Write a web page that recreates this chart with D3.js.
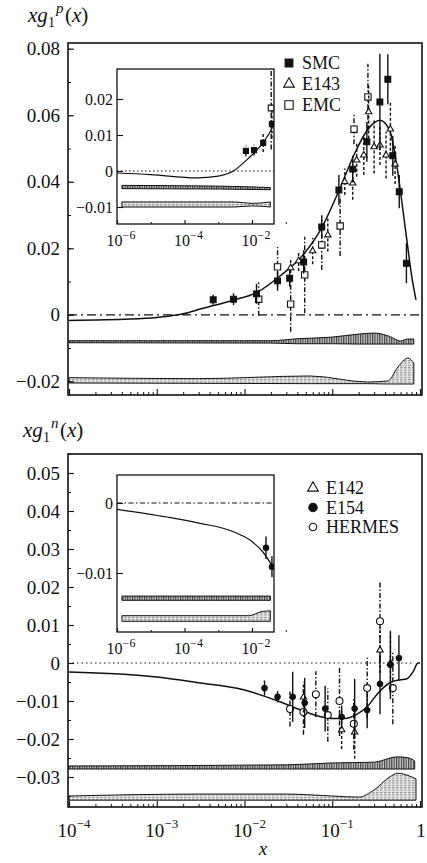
<!DOCTYPE html>
<html>
<head>
<meta charset="utf-8">
<script src="https://cdn.jsdelivr.net/npm/d3@7"></script>
<style>
  body { margin: 0; background: #fff; }
  svg { display: block; }
  text { font-family: "Liberation Serif", "Times New Roman", serif; fill: #111; }
</style>
</head>
<body>
<div id="vis"></div>
<script>
// ---- data ----
// x ticks (main and inset)
const mainXTicks = [1e-4, 1e-3, 1e-2, 1e-1, 1];
const insetXTicks = [1e-6, 1e-4, 1e-2];
const pYTicks = [-0.02, 0, 0.02, 0.04, 0.06, 0.08];
const nYTicks = [-0.03, -0.02, -0.01, 0, 0.01, 0.02, 0.03, 0.04, 0.05];
const pInsetYTicks = [-0.01, 0, 0.01, 0.02];
const nInsetYTicks = [-0.01, 0];

// proton fit curve [x, xg1p]
const pCurve = [[1e-4,-0.0017],[5e-4,-0.0013],[1e-3,-0.0008],[2e-3,0.0003],[3.2e-3,0.0018],[7.5e-3,0.0044],
  [0.014,0.0068],[0.026,0.0119],[0.044,0.0173],[0.076,0.0262],[0.12,0.0375],[0.18,0.0485],[0.25,0.0555],
  [0.35,0.0585],[0.45,0.0555],[0.55,0.044],[0.65,0.030],[0.72,0.021],[0.8,0.012],[0.9,0.0045]];
// proton data [x, value, error]
const smc = [[0.0044,0.0045,0.0015],[0.0075,0.0047,0.0018],[0.0137,0.0063,0.003],[0.0238,0.0102,0.003],
  [0.0327,0.011,0.0025],[0.0472,0.0159,0.0035],[0.0759,0.0264,0.0035],[0.119,0.0375,0.0045],[0.171,0.0438,0.004],
  [0.248,0.052,0.006],[0.349,0.064,0.0145],[0.43,0.0708,0.0075],[0.49,0.0478,0.006],[0.58,0.037,0.005],[0.70,0.0155,0.006]];
const e143 = [[0.0336,0.0141,0.003],[0.0414,0.0162,0.003],[0.0598,0.0192,0.004],[0.089,0.024,0.005],
  [0.139,0.040,0.004],[0.171,0.0396,0.005],[0.19,0.0465,0.005],[0.229,0.048,0.006],[0.26,0.061,0.008],
  [0.30,0.0505,0.008],[0.35,0.051,0.006],[0.41,0.048,0.007],[0.46,0.0558,0.008],[0.52,0.0453,0.006]];
const emc = [[0.0145,0.0047,0.005],[0.0238,0.0144,0.006],[0.0336,0.0032,0.0083],[0.0485,0.012,0.0115],
  [0.0759,0.021,0.0075],[0.123,0.0267,0.009],[0.177,0.0558,0.0045],[0.255,0.0655,0.010]];
// proton error bands [x, low, high]
const pBandA = [[1e-4,-0.0084,-0.0078],[0.02,-0.0085,-0.0078],[0.04,-0.0087,-0.0072],[0.1,-0.0087,-0.0067],
  [0.2,-0.0088,-0.0058],[0.3,-0.0088,-0.0055],[0.45,-0.0088,-0.0065],[0.6,-0.0088,-0.0079],[0.72,-0.0088,-0.0073],[0.85,-0.0088,-0.0073]];
const pBandB = [[1e-4,-0.0205,-0.0189],[0.003,-0.0206,-0.0192],[0.056,-0.0207,-0.0184],[0.25,-0.0207,-0.0202],
  [0.43,-0.0208,-0.0199],[0.56,-0.0208,-0.0157],[0.73,-0.0208,-0.013],[0.85,-0.0208,-0.0145]];
// proton inset
const pInCurve = [[1e-6,-0.00056],[1e-5,-0.0010],[2.3e-4,-0.0019],[1e-3,-0.0014],[2.8e-3,0],[7e-3,0.0031],
  [0.021,0.0078],[0.039,0.0119],[0.045,0.0133]];
const pInSmc = [[0.0066,0.0056,0.0015],[0.0115,0.0058,0.0015],[0.0214,0.0078,0.0025],[0.039,0.013,0.004]];
const pInEmc = [[0.037,0.0175,0.0115]];
const pInBandA = [[1.4e-6,-0.0049,-0.0040],[1e-3,-0.0050,-0.0042],[0.035,-0.0052,-0.0046]];
const pInBandB = [[1.4e-6,-0.0100,-0.0086],[3e-3,-0.0100,-0.0086],[0.01,-0.0097,-0.0090],[0.035,-0.0100,-0.0086]];

// neutron fit curve
const nCurve = [[1e-4,-0.0024],[1e-3,-0.0037],[3e-3,-0.0052],[1e-2,-0.0071],[0.024,-0.0100],[0.044,-0.0124],
  [0.07,-0.0140],[0.104,-0.0146],[0.14,-0.0146],[0.19,-0.0135],[0.255,-0.0113],[0.33,-0.0080],[0.47,-0.0050],
  [0.6,-0.0044],[0.7,-0.0042],[0.83,-0.0024],[0.95,0.0],[1,0.0]];
const e154 = [[0.0169,-0.0066,0.002],[0.0238,-0.0089,0.0015],[0.0354,-0.0089,0.0066],[0.0485,-0.0105,0.0066],
  [0.083,-0.012,0.006],[0.128,-0.0142,0.003],[0.18,-0.012,0.0078],[0.25,-0.0124,0.0048],[0.35,-0.0055,0.008],
  [0.46,-0.0005,0.009],[0.575,0.0013,0.006]];
const hermes = [[0.033,-0.0121,0.0046],[0.047,-0.0129,0.006],[0.065,-0.0082,0.006],[0.089,-0.0137,0.007],
  [0.121,-0.0100,0.0092],[0.176,-0.0160,0.0068],[0.25,-0.0066,0.008],[0.35,0.011,0.0105],[0.49,-0.0066,0.0095]];
const e142 = [[0.047,-0.009,0.004],[0.128,-0.0176,0.005],[0.18,-0.0182,0.007],[0.35,0.0034,0.006],[0.46,0.0,0.008]];
const nBandA = [[1e-4,-0.0279,-0.0271],[0.03,-0.0279,-0.0268],[0.1,-0.0279,-0.0263],[0.3,-0.0279,-0.0261],
  [0.55,-0.0279,-0.0247],[0.75,-0.0279,-0.025],[0.87,-0.0279,-0.0258]];
const nBandB = [[1e-4,-0.0361,-0.035],[0.003,-0.0361,-0.0345],[0.03,-0.0361,-0.0345],[0.1,-0.0361,-0.035],
  [0.2,-0.0361,-0.0353],[0.3,-0.0361,-0.0334],[0.45,-0.0361,-0.030],[0.56,-0.0361,-0.029],[0.75,-0.0361,-0.0297],[0.9,-0.0361,-0.0305]];
// neutron inset
const nInCurve = [[1e-6,-0.0009],[3e-5,-0.0020],[2.9e-4,-0.0029],[2.8e-3,-0.0041],[8.7e-3,-0.0053],[0.021,-0.0070],[0.045,-0.0094]];
const nInE154 = [[0.026,-0.0064,0.0016],[0.039,-0.0091,0.0015]];
const nInBandA = [[1.4e-6,-0.0139,-0.0133],[0.035,-0.0139,-0.0133]];
const nInBandB = [[1.4e-6,-0.0169,-0.0161],[0.008,-0.0169,-0.0161],[0.02,-0.0169,-0.0155],[0.035,-0.0169,-0.0154]];

// ---- layout ----
const width = 427, height = 863;
const L = 68, R = 422;
const top1 = 43, bot1 = 395, top2 = 454, bot2 = 807;
const inL = 117, inR = 274;

const xMain = d3.scaleLog().domain([1e-4, 1]).range([69, 420]);
const yP = d3.scaleLinear().domain([0, 0.08]).range([314.8, 48.7]);
const yN = d3.scaleLinear().domain([-0.03, 0.05]).range([777, 473]);
const xIn = d3.scaleLog().domain([1e-6, 1e-2]).range([117, 252]);
const yPIn = d3.scaleLinear().domain([0, 0.02]).range([171, 99]);
const yNIn = d3.scaleLinear().domain([0, -0.01]).range([503, 573]);

let vis = d3.select('#vis').append('svg')
  .attr('width', width).attr('height', height);

// hatch patterns for error bands
const defs = vis.append('defs');
const hA = defs.append('pattern').attr('id', 'hatchA').attr('patternUnits', 'userSpaceOnUse')
  .attr('width', 2.4).attr('height', 4);
hA.append('rect').attr('width', 2.4).attr('height', 4).attr('fill', '#c4c4c4');
hA.append('line').attr('x1', 0.6).attr('x2', 0.6).attr('y1', 0).attr('y2', 4)
  .attr('stroke', '#222').attr('stroke-width', 0.9);
const hB = defs.append('pattern').attr('id', 'hatchB').attr('patternUnits', 'userSpaceOnUse')
  .attr('width', 4).attr('height', 2.4);
hB.append('rect').attr('width', 4).attr('height', 2.4).attr('fill', '#e6e6e6');
hB.append('line').attr('x1', 0).attr('x2', 2.6).attr('y1', 0.6).attr('y2', 0.6)
  .attr('stroke', '#555').attr('stroke-width', 0.7);

function clip(id, x0, y0, x1, y1) {
  defs.append('clipPath').attr('id', id).append('rect')
    .attr('x', x0).attr('y', y0).attr('width', x1 - x0).attr('height', y1 - y0);
}
clip('cTop', L, top1, R, bot1);
clip('cBot', L, top2, R, bot2);
clip('cInP', inL, 69, inR, 224);
clip('cInN', inL, 475, inR, 632);

function drawBand(g, data, x, y, fill) {
  g.append('path').datum(data)
    .attr('d', d3.area().x(d => x(d[0])).y0(d => y(d[1])).y1(d => y(d[2])).curve(d3.curveMonotoneX))
    .attr('fill', fill).attr('stroke', '#111').attr('stroke-width', 1);
}

function drawCurve(g, data, x, y, w) {
  g.append('path').datum(data)
    .attr('d', d3.line().x(d => x(d[0])).y(d => y(d[1])).curve(d3.curveMonotoneX))
    .attr('fill', 'none').attr('stroke', '#111').attr('stroke-width', w);
}

function drawPoints(g, data, x, y, shape, size, filled, dash) {
  g.append('g').selectAll('line').data(data).enter().append('line')
    .attr('x1', d => x(d[0])).attr('x2', d => x(d[0]))
    .attr('y1', d => y(d[1] - d[2])).attr('y2', d => y(d[1] + d[2]))
    .attr('stroke', '#111').attr('stroke-width', 1.4)
    .attr('stroke-dasharray', dash);
  g.append('g').selectAll('path').data(data).enter().append('path')
    .attr('transform', d => `translate(${x(d[0])},${y(d[1])})`)
    .attr('d', d3.symbol().type(shape).size(size))
    .attr('fill', filled ? '#111' : '#fff')
    .attr('stroke', '#111').attr('stroke-width', 1.1);
}

function zeroLine(g, x0, x1, y, dash) {
  g.append('line').attr('x1', x0).attr('x2', x1).attr('y1', y).attr('y2', y)
    .attr('stroke', '#111').attr('stroke-width', 1.2).attr('stroke-dasharray', dash);
}

function frame(x0, y0, x1, y1, w) {
  vis.append('rect').attr('x', x0).attr('y', y0).attr('width', x1 - x0).attr('height', y1 - y0)
    .attr('fill', 'none').attr('stroke', '#111').attr('stroke-width', w);
}

const fmt = d => d === 0 ? '0' : d3.format('.2f')(d);

function leftAxis(scale, ticks, xPos, minor, fontSize, pad) {
  vis.append('g').attr('transform', `translate(${xPos},0)`)
    .call(d3.axisLeft(scale).tickValues(minor).tickSize(-3).tickSizeOuter(0).tickFormat(''))
    .call(g => g.select('.domain').remove())
    .call(g => g.selectAll('line').attr('stroke', '#111'));
  vis.append('g').attr('transform', `translate(${xPos},0)`)
    .call(d3.axisLeft(scale).tickValues(ticks).tickSize(-6).tickSizeOuter(0).tickPadding(pad).tickFormat(fmt))
    .call(g => g.select('.domain').remove())
    .call(g => g.selectAll('line').attr('stroke', '#111').attr('stroke-width', 1.1))
    .call(g => g.selectAll('text').attr('font-size', fontSize).attr('fill', '#111')
      .attr('font-family', '"Liberation Serif", "Times New Roman", serif'));
}

function logTicks(lo, hi) {
  const out = [];
  for (let e = lo; e < hi; e++) for (let k = 2; k < 10; k++) out.push(k * Math.pow(10, e));
  return out;
}

function bottomAxis(scale, major, minor, yPos, len) {
  vis.append('g').attr('transform', `translate(0,${yPos})`)
    .call(d3.axisBottom(scale).tickValues(minor).tickSize(-len / 2).tickSizeOuter(0).tickFormat(''))
    .call(g => g.select('.domain').remove())
    .call(g => g.selectAll('line').attr('stroke', '#111'));
  vis.append('g').attr('transform', `translate(0,${yPos})`)
    .call(d3.axisBottom(scale).tickValues(major).tickSize(-len).tickSizeOuter(0).tickFormat(''))
    .call(g => g.select('.domain').remove())
    .call(g => g.selectAll('line').attr('stroke', '#111').attr('stroke-width', 1.1));
}

function powLabels(scale, ticks, yBase, fs, sup, dx) {
  const t = vis.append('g').selectAll('text').data(ticks).enter().append('text')
    .attr('x', d => d === 1 ? scale(d) + 1 : scale(d) + dx).attr('y', yBase)
    .attr('text-anchor', 'middle').attr('font-size', fs);
  t.each(function(d) {
    const e = Math.round(Math.log10(d));
    const s = d3.select(this);
    if (e === 0) { s.text('1'); return; }
    s.append('tspan').text('10');
    s.append('tspan').attr('dy', -fs * 0.45).attr('font-size', sup).text('\u2212' + Math.abs(e));
  });
}

function axisTitle(x, y, sup) {
  const g = vis.append('g').attr('font-size', 21);
  g.append('text').attr('x', x).attr('y', y).attr('font-style', 'italic').text('xg');
  g.append('text').attr('x', x + 20).attr('y', y + 5).attr('font-size', 14).text('1');
  g.append('text').attr('x', x + 28).attr('y', y - 9).attr('font-size', 15).attr('font-style', 'italic').text(sup);
  const t = g.append('text').attr('x', x + 37).attr('y', y);
  t.append('tspan').text('(');
  t.append('tspan').attr('font-style', 'italic').text('x');
  t.append('tspan').text(')');
}

function legend(x, y0, step, items) {
  items.forEach((it, i) => {
    const cy = y0 + i * step;
    vis.append('path').attr('transform', `translate(${x},${cy})`)
      .attr('d', d3.symbol().type(it.shape).size(it.size))
      .attr('fill', it.filled ? '#111' : '#fff').attr('stroke', '#111').attr('stroke-width', 1.1);
    vis.append('text').attr('x', x + 13).attr('y', cy).attr('dy', '0.35em')
      .attr('font-size', 18).text(it.label);
  });
}

// ================= top panel: proton =================
const gTop = vis.append('g').attr('clip-path', 'url(#cTop)');
drawBand(gTop, pBandA, xMain, yP, 'url(#hatchA)');
drawBand(gTop, pBandB, xMain, yP, 'url(#hatchB)');
zeroLine(gTop, L, 420, yP(0), '9,4,2,4');
drawCurve(gTop, pCurve, xMain, yP, 1.5);
drawPoints(gTop, emc, xMain, yP, d3.symbolSquare, 40, false, '5,2,1.5,2');
drawPoints(gTop, e143, xMain, yP, d3.symbolTriangle, 18, false, '3,2');
drawPoints(gTop, smc, xMain, yP, d3.symbolSquare, 34, true, null);

frame(L, top1, R, bot1, 1.6);
leftAxis(yP, pYTicks, L, d3.range(-0.02, 0.081, 0.01), 19, 8);
bottomAxis(xMain, mainXTicks, logTicks(-4, 0), bot1, 6);
axisTitle(28, 22, 'p');

// inset (proton)
vis.append('rect').attr('x', inL).attr('y', 69).attr('width', inR - inL).attr('height', 224 - 69).attr('fill', '#fff');
const gInP = vis.append('g').attr('clip-path', 'url(#cInP)');
drawBand(gInP, pInBandA, xIn, yPIn, 'url(#hatchA)');
drawBand(gInP, pInBandB, xIn, yPIn, 'url(#hatchB)');
zeroLine(gInP, inL, inR, yPIn(0), '1.5,2.5');
drawCurve(gInP, pInCurve, xIn, yPIn, 1.2);
drawPoints(gInP, pInEmc, xIn, yPIn, d3.symbolSquare, 34, false, '5,2,1.5,2');
drawPoints(gInP, pInSmc, xIn, yPIn, d3.symbolSquare, 26, true, '3,2');
frame(inL, 69, inR, 224, 1.3);
leftAxis(yPIn, pInsetYTicks, inL, [], 16, 4);
bottomAxis(xIn, insetXTicks, [1e-5, 1e-3, 1e-1], 224, 4);
powLabels(xIn, insetXTicks, 246, 16, 12, 4);

legend(289, 63, 21, [
  { label: 'SMC', shape: d3.symbolSquare, size: 60, filled: true },
  { label: 'E143', shape: d3.symbolTriangle, size: 50, filled: false },
  { label: 'EMC', shape: d3.symbolSquare, size: 70, filled: false }
]);

// ================= bottom panel: neutron =================
const gBot = vis.append('g').attr('clip-path', 'url(#cBot)');
drawBand(gBot, nBandA, xMain, yN, 'url(#hatchA)');
drawBand(gBot, nBandB, xMain, yN, 'url(#hatchB)');
zeroLine(gBot, L, 412, yN(0), '1.5,3');
drawCurve(gBot, nCurve, xMain, yN, 1.5);
drawPoints(gBot, hermes, xMain, yN, d3.symbolCircle, 38, false, '5,2,1.5,2');
drawPoints(gBot, e142, xMain, yN, d3.symbolTriangle, 18, false, '3,2');
drawPoints(gBot, e154, xMain, yN, d3.symbolCircle, 24, true, null);

frame(L, top2, R, bot2, 1.6);
leftAxis(yN, nYTicks, L, d3.range(-0.035, 0.0551, 0.005), 19, 8);
bottomAxis(xMain, mainXTicks, logTicks(-4, 0), bot2, 6);
powLabels(xMain, mainXTicks, 837, 19, 13, 5);
vis.append('text').attr('x', 263).attr('y', 855).attr('text-anchor', 'middle')
  .attr('font-size', 19).attr('font-style', 'italic').text('x');
axisTitle(23, 437, 'n');

// inset (neutron)
vis.append('rect').attr('x', inL).attr('y', 475).attr('width', inR - inL).attr('height', 632 - 475).attr('fill', '#fff');
const gInN = vis.append('g').attr('clip-path', 'url(#cInN)');
drawBand(gInN, nInBandA, xIn, yNIn, 'url(#hatchA)');
drawBand(gInN, nInBandB, xIn, yNIn, 'url(#hatchB)');
zeroLine(gInN, inL, inR, yNIn(0), '5,2.5,1.5,2.5');
drawCurve(gInN, nInCurve, xIn, yNIn, 1.2);
drawPoints(gInN, nInE154, xIn, yNIn, d3.symbolCircle, 22, true, null);
frame(inL, 475, inR, 632, 1.3);
leftAxis(yNIn, nInsetYTicks, inL, [], 16, 4);
bottomAxis(xIn, insetXTicks, [1e-5, 1e-3, 1e-1], 632, 4);
powLabels(xIn, insetXTicks, 654, 16, 12, 4);

legend(313, 488, 19.5, [
  { label: 'E142', shape: d3.symbolTriangle, size: 50, filled: false },
  { label: 'E154', shape: d3.symbolCircle, size: 55, filled: true },
  { label: 'HERMES', shape: d3.symbolCircle, size: 45, filled: false }
]);
</script>
</body>
</html>
